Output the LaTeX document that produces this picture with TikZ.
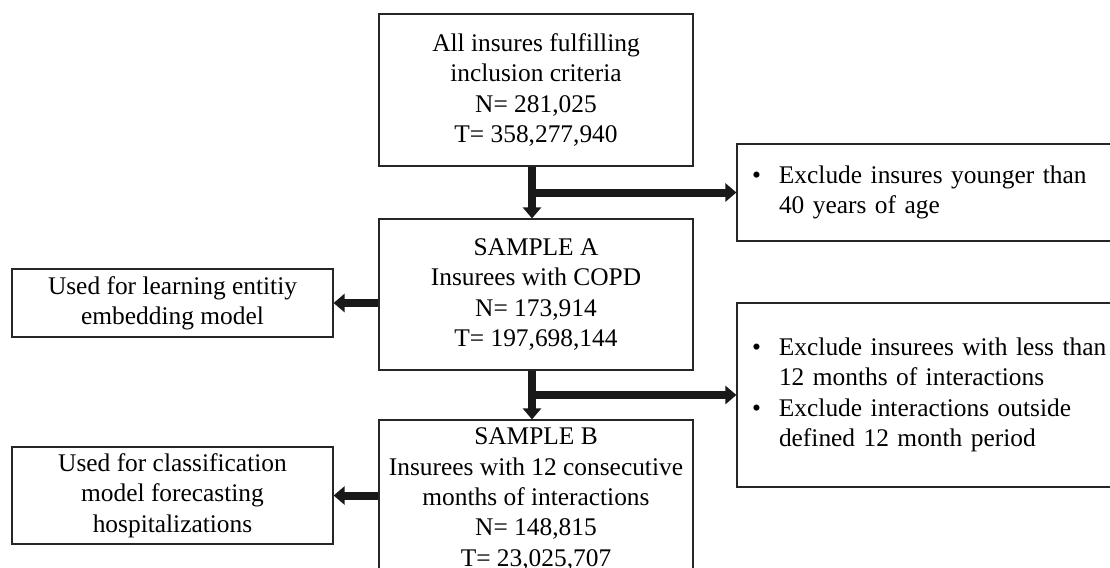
\documentclass[tikz,border=0pt]{standalone}
\usepackage{fontspec}
\setmainfont{Liberation Serif}
\usetikzlibrary{arrows.meta}
\begin{document}
\begin{tikzpicture}[x=0.5pt,y=-0.5pt, line join=miter,
		font=\fontsize{12.7pt}{15.2pt}\selectfont,
		box/.style={draw=black!85, line width=0.6pt, inner sep=0pt, align=center},
		exclbox/.style={box, minimum width=196.5pt, text width=181.5pt, inner xsep=7.5pt, align=left},
		flow/.style={line width=4pt, draw=black!90, -{Triangle[width=9pt,length=5.5pt]}}]
		\useasboundingbox (0,0) rectangle (1110,568);
		\clip (0,0) rectangle (1110,568);
		% main column
		\node[box, minimum width=157pt, minimum height=76pt] (incl) at (536,90)
			{All insures fulfilling\\inclusion criteria\\N= 281,025\\T= 358,277,940};
		\node[box, minimum width=157pt, minimum height=75.5pt] (sampA) at (536,294.5)
			{SAMPLE A\\Insurees with COPD\\N= 173,914\\T= 197,698,144};
		\node[box, minimum width=157pt, minimum height=79pt] (sampB) at (536,499)
			{SAMPLE B\\Insurees with 12 consecutive\\months of interactions\\N= 148,815\\T= 23,025,707};
		% exclusions
		\node[exclbox, minimum height=48.5pt] (excl1) at (933.5,192.5)
			{\begin{tabular}{@{}p{13.5pt}@{}l@{}}
				\textbullet & Exclude insures younger than\\
				& 40 years of age
			\end{tabular}};
		\node[exclbox, minimum height=92pt] (excl2) at (933.5,395)
			{\begin{tabular}{@{}p{13.5pt}@{}l@{}}
				\textbullet & Exclude insurees with less than\\
				& 12 months of interactions\\
				\textbullet & Exclude interactions outside\\
				& defined 12 month period
			\end{tabular}};
		% uses
		\node[box, minimum width=160.5pt, minimum height=34pt] (use1) at (172.5,303)
			{Used for learning entitiy\\embedding model};
		\node[box, minimum width=160.5pt, minimum height=48.5pt] (use2) at (172.5,495.5)
			{Used for classification\\model forecasting\\hospitalizations};
		% arrows
		\draw[flow] ([xshift=-2pt]incl.south) -- ([xshift=-2pt]sampA.north);
		\draw[flow] ([xshift=-2pt]incl.south |- excl1.west) -- (excl1.west);
		\draw[flow] ([xshift=-2pt]sampA.south) -- ([xshift=-2pt]sampB.north);
		\draw[flow] ([xshift=-2pt]sampA.south |- excl2.west) -- (excl2.west);
		\draw[flow] (sampA.west |- use1.east) -- (use1.east);
		\draw[flow] (sampB.west |- use2.east) -- (use2.east);
\end{tikzpicture}
\end{document}
